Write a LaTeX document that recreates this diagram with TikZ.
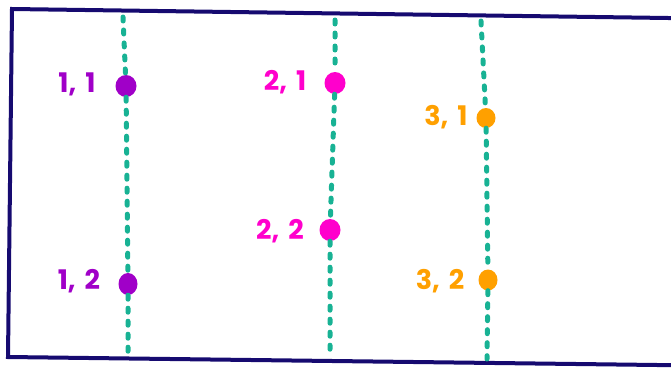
\documentclass[tikz,border=0pt]{standalone}
\usepackage{fontspec}
\setmainfont{Poppins}
\usetikzlibrary{shapes.geometric}
\definecolor{navy}{RGB}{22,10,112}
\definecolor{teal2}{RGB}{24,178,148}
\definecolor{purp}{RGB}{160,0,200}
\definecolor{mag}{RGB}{255,0,204}
\definecolor{orng}{RGB}{255,160,0}
\tikzset{
  frame/.style={draw=navy,line width=4pt,line join=miter},
  dots/.style={draw=teal2,line width=5pt,line cap=round,dash pattern=on 4pt off 9pt},
  pt/.style={ellipse,minimum width=21pt,minimum height=22pt,inner sep=0pt,fill=#1},
  lab/.style={text=#1,font=\fontsize{27}{29}\selectfont\bfseries,inner sep=0pt}
}
\begin{document}
\begin{tikzpicture}[x=1pt,y=-1pt]
\useasboundingbox (0,0) rectangle (671,367);
\draw[frame] (690,18.3) -- (12,9) -- (8,357) -- (690,365.4);
% column 1
\coordinate (t1) at (123,17);
\coordinate (b1) at (128,353);
\node[pt=purp] (d11) at (126,86) {};
\node[pt=purp,minimum width=19pt] (d12) at (128,284) {};
% column 2
\coordinate (t2) at (335,20);
\coordinate (b2) at (330,358);
\node[pt=mag] (d21) at (335,83) {};
\node[pt=mag] (d22) at (330,230) {};
% column 3
\coordinate (t3) at (481,21);
\coordinate (b3) at (487,359);
\node[pt=orng,minimum width=19pt,minimum height=20pt] (d31) at (486,118) {};
\node[pt=orng,minimum width=19pt,minimum height=21pt] (d32) at (488,280) {};
% dotted lines
\draw[dots] (t1) -- (d11) -- (d12) -- (b1);
\draw[dots] (t2) -- (d21) -- (d22) -- (b2);
\draw[dots] (t3) -- (d31) -- (d32) -- (b3);
% labels
\node[lab=purp] (l11) at (77,84) {1,\,\,1};
\node[lab=purp] (l12) at (79,281) {1,\,\,2};
\node[lab=mag] (l21) at (285,82) {2,\,\,1};
\node[lab=mag] (l22) at (280,231) {2,\,\,2};
\node[lab=orng] (l31) at (446,117) {3,\,\,1};
\node[lab=orng] (l32) at (440,281) {3,\,\,2};
\end{tikzpicture}
\end{document}
